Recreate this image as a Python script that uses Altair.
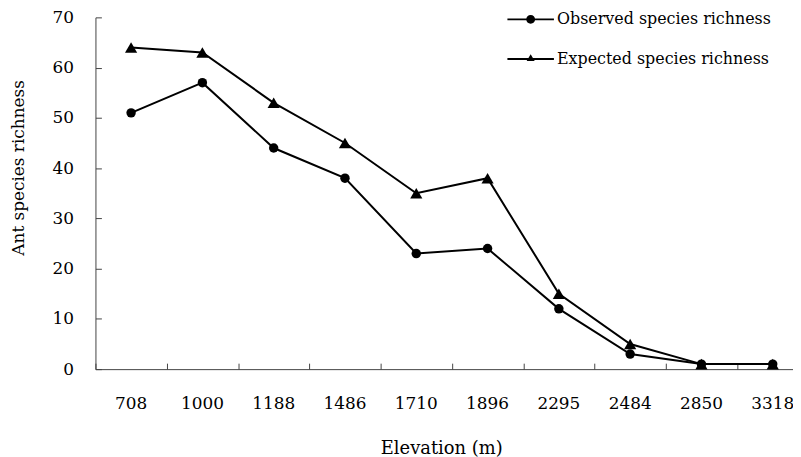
import altair as alt
import pandas as pd

# ---- data ----
elevations = ["708", "1000", "1188", "1486", "1710", "1896", "2295", "2484", "2850", "3318"]
observed = [51, 57, 44, 38, 23, 24, 12, 3, 1, 1]
expected = [64, 63, 53, 45, 35, 38, 15, 5, 1, 1]
series_names = ["Observed species richness", "Expected species richness"]
y_ticks = [0, 10, 20, 30, 40, 50, 60, 70]

rows = []
for i, (e, o, x) in enumerate(zip(elevations, observed, expected)):
    rows.append({"idx": i, "elev": e, "value": o, "series": series_names[0]})
    rows.append({"idx": i, "elev": e, "value": x, "series": series_names[1]})
df = pd.DataFrame(rows)

FONT = "DejaVu Serif"
W, H = 702, 354
STEP = 71.75
AX = "#444444"

x_scale = alt.Scale(type="band", domain=elevations, range=[0, STEP * len(elevations)],
                    paddingInner=0, paddingOuter=0)
y_scale = alt.Scale(domain=[0, 70], nice=False, zero=True)

lines = alt.Chart(df).mark_line(color="black", strokeWidth=2).encode(
    x=alt.X("elev:N", scale=x_scale, axis=alt.Axis(
        orient="bottom", title="Elevation (m)", ticks=False, tickSize=0, labelPadding=27,
        labelAngle=0, domain=True, domainColor=AX, domainWidth=1, grid=False,
        labelFont=FONT, labelFontSize=17, labelColor="black",
        titleFont=FONT, titleFontSize=18, titleFontWeight="normal", titleColor="black",
        titleX=348, titleY=85, titleAlign="center", titleBaseline="alphabetic")),
    y=alt.Y("value:Q", scale=y_scale, axis=alt.Axis(
        orient="left", values=y_ticks, ticks=False, tickSize=0, labelPadding=22,
        domain=True, domainColor=AX, domainWidth=1, grid=False,
        labelFont=FONT, labelFontSize=17, labelColor="black",
        title="Ant species richness", titleFont=FONT, titleFontSize=17,
        titleFontWeight="normal", titleColor="black",
        titleX=-72, titleY=151, titleAngle=270, titleAlign="center",
        titleBaseline="alphabetic")),
    detail="series:N",
    order="idx:Q",
)

obs_points = alt.Chart(df).transform_filter(
    alt.datum.series == series_names[0]
).mark_point(filled=True, color="black", opacity=1, shape="circle", size=90).encode(
    x=alt.X("elev:N", scale=x_scale, axis=alt.Axis(
        orient="top", offset=-H, labels=False, domain=False, ticks=True, tickSize=6,
        tickBand="extent", tickColor=AX, tickWidth=1, title=None, grid=False)),
    y=alt.Y("value:Q", scale=y_scale, axis=alt.Axis(
        orient="right", offset=-W, labels=False, domain=False, ticks=True, tickSize=6,
        tickColor=AX, tickWidth=1, values=y_ticks, title=None, grid=False)),
)

exp_points = alt.Chart(df).transform_filter(
    alt.datum.series == series_names[1]
).mark_point(filled=True, color="black", opacity=1, shape="triangle-up", size=150).encode(
    x=alt.X("elev:N", scale=x_scale, axis=None),
    y=alt.Y("value:Q", scale=y_scale, axis=None),
)

# legend symbols: filled bar (the line) + filled marker, so no stroke is needed
path_obs = "M-5.2,-0.22H5.2V0.22H-5.2Z M-1,0A1,1,0,1,1,1,0A1,1,0,1,1,-1,0Z"
path_exp = "M-5.2,-0.22H5.2V0.22H-5.2Z M0,-1.1L0.9,0.45L-0.9,0.45Z"

legend_layer = alt.Chart(df).transform_filter("false").mark_point(
    filled=True, color="black", opacity=1, size=81
).encode(
    shape=alt.Shape("series:N", scale=alt.Scale(domain=series_names, range=[path_obs, path_exp]),
                    legend=alt.Legend(orient="none", legendX=430, legendY=-6, title=None,
                                      labelFont=FONT, labelFontSize=16, labelColor="black",
                                      labelOffset=18.5, labelLimit=0, rowPadding=24,
                                      symbolFillColor="black",
                                      symbolSize=81, symbolOpacity=1)),
)

chart = alt.layer(lines, obs_points, exp_points, legend_layer).resolve_axis(
    x="independent", y="independent"
).properties(
    width=W, height=H,
    padding={"left": 88, "top": 8, "right": 0, "bottom": 88},
    autosize=alt.AutoSizeParams(type="none"),
    background="white",
).configure_view(stroke=None)

chart.save("out.html", embed_options={"renderer": "svg", "actions": False})
